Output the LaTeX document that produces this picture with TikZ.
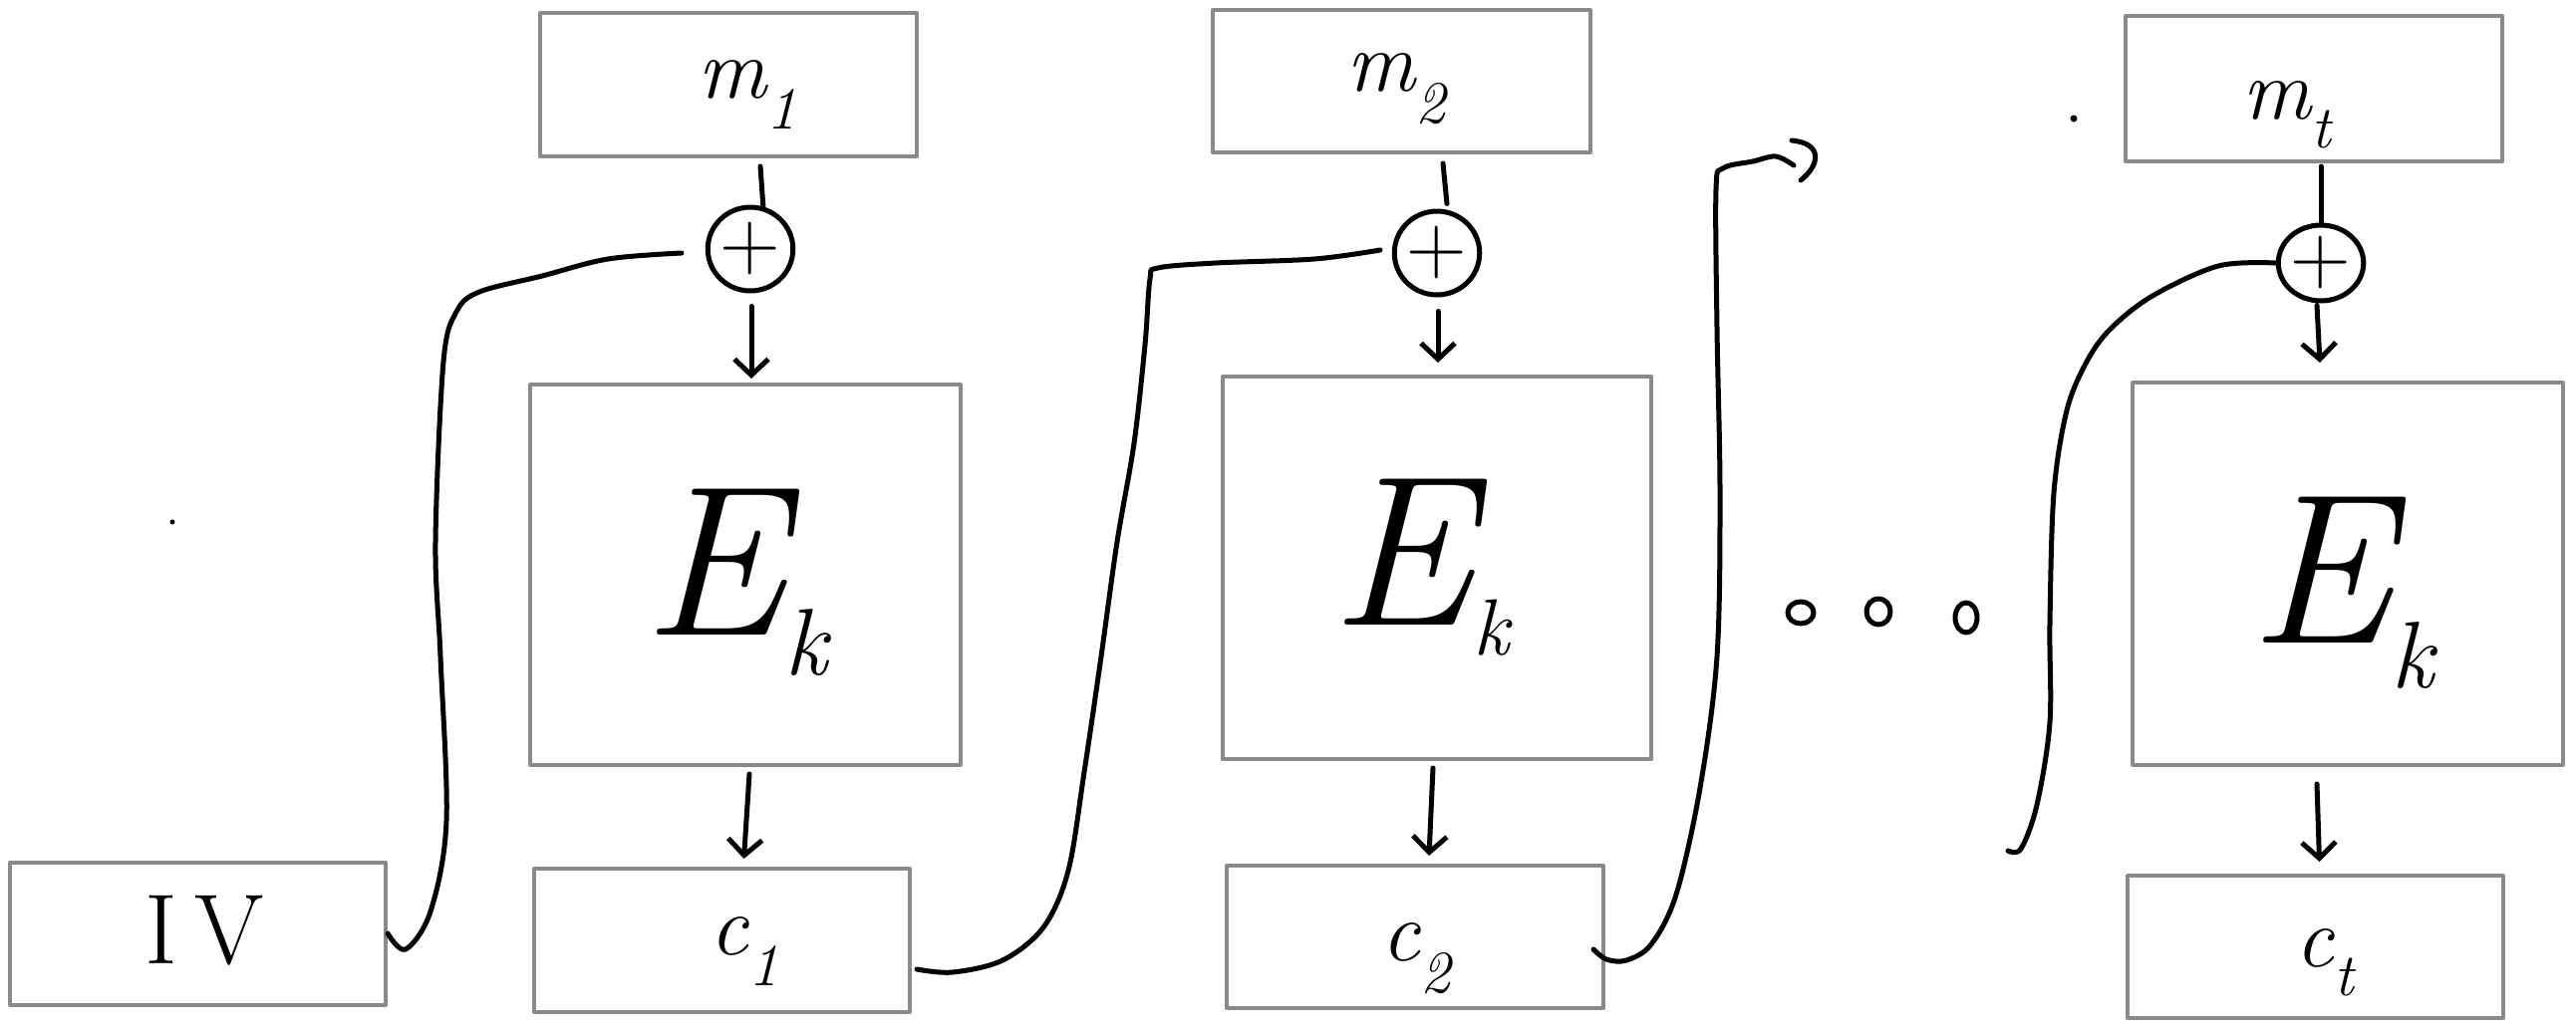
\documentclass[tikz,border=0pt]{standalone}
\usepackage{fontspec}
\usetikzlibrary{shapes.geometric,arrows.meta,calc}
\definecolor{boxgray}{RGB}{138,138,138}
\newcommand{\lowsub}[1]{\textsubscript{#1}}
\newcommand{\smallsub}[3]{\raisebox{-#2pt}{\fontsize{#1}{#1}\selectfont #3}}
\begin{document}
\begin{tikzpicture}[x=1pt,y=-1pt,line cap=round,line join=round,
  box/.style={draw=boxgray,line width=4pt,rectangle,inner sep=0pt},
  lbl/.style={inner sep=0pt,font=\fontsize{86}{100}\selectfont\itshape},
  uplbl/.style={inner sep=0pt,font=\fontsize{100}{110}\selectfont},
  biglbl/.style={inner sep=0pt,font=\fontsize{215}{250}\selectfont\itshape},
  xorc/.style={draw=black,line width=5pt,ellipse,inner sep=0pt,font=\fontsize{84}{90}\selectfont},
  ink/.style={draw=black,line width=5pt},
  arr/.style={ink,-{Straight Barb[length=16pt,width=34pt]}},
  feed/.style={ink,smooth,tension=0.55}]
\fill[white] (0,0) rectangle (2585,1034);
\useasboundingbox (0,0) rectangle (2585,1034);

% boxes
\node[box,minimum width=378pt,minimum height=144pt] (m1) at (731,85) {};
\node[box,minimum width=379pt,minimum height=143pt] (m2) at (1406.5,81.5) {};
\node[box,minimum width=378pt,minimum height=146pt] (mt) at (2322,89) {};
\node[box,minimum width=432pt,minimum height=382pt] (e1) at (748,577) {};
\node[box,minimum width=430pt,minimum height=384pt] (e2) at (1442,570) {};
\node[box,minimum width=432pt,minimum height=384pt] (e3) at (2356,576) {};
\node[box,minimum width=377pt,minimum height=143pt] (iv) at (198.5,937) {};
\node[box,minimum width=377pt,minimum height=144pt] (c1) at (724.5,944) {};
\node[box,minimum width=378pt,minimum height=143pt] (c2) at (1420,940.5) {};
\node[box,minimum width=377pt,minimum height=143pt] (ct) at (2323.5,950.5) {};

% labels
\node[lbl] (tm1) at (750,95) {m\lowsub{1}};
\node[lbl] (tm2) at (1401,89) {m\lowsub{2}};
\node[lbl] (tmt) at (2295,115) {m\lowsub{t}};
\node[biglbl] (te1) at (738,585) {E\smallsub{95}{40}{k}};
\node[biglbl] (te2) at (1425,570) {E\smallsub{80}{30}{k}};
\node[biglbl] (te3) at (2350,595) {E\smallsub{95}{45}{k}};
\node[uplbl] (tiv) at (205,934) {I\,V};
\node[lbl] (tc1) at (747,955) {c\lowsub{1}};
\node[lbl] (tc2) at (1421,962) {c\lowsub{2}};
\node[lbl] (tct) at (2333,966) {c\lowsub{t}};

% xor circles
\node[xorc,minimum width=70pt,minimum height=84pt] (x1) at (753,250) {+};
\node[xorc,minimum width=68pt,minimum height=84pt] (x2) at (1442,254) {+};
\node[xorc,minimum width=62pt,minimum height=76pt] (x3) at (2329,264) {+};

% message to xor
\draw[ink] ($(m1.south)+(32,8)$) -- ($(x1.north)+(13,4)$);
\draw[ink] ($(m2.south)+(41.5,9)$) -- ($(x2.north)+(10,-5)$);
\draw[ink] ($(mt.south)+(7,3)$) -- (x3.north);

% xor to E
\draw[arr] ($(x1.south)+(1,13)$) -- ($(e1.north)+(6,-4)$);
\draw[arr] ($(x2.south)+(1,14)$) -- ($(e2.north)+(1,-12)$);
\draw[arr] ($(x3.south)+(-4,2)$) -- ($(e3.north)+(-28,-18)$);

% E to c
\draw[arr] ($(e1.south)+(4,7)$) -- ($(c1.north)+(22,-8)$);
\draw[arr] ($(e2.south)+(-4,7)$) -- ($(c2.north)+(14,-8)$);
\draw[arr] ($(e3.south)+(-31,17)$) -- ($(ct.north)+(4,-12)$);

% feedback curves
\coordinate (f1end) at (684,254);
\draw[feed] plot coordinates {(iv.east) (407,953) (432,915) (448,824) (442,659) (437,544) (445,363) (458,313) (481,293) (544,277) (610,260) (f1end)};
\coordinate (c1out) at (920,973);
\coordinate (f2end) at (1385,251);
\draw[feed] plot coordinates {(c1out) (956,976) (1006,964) (1047,931) (1072,874) (1088,775) (1105,659) (1121,544) (1138,445) (1149,346) (1154,280) (1162,269) (1220,264) (1319,260) (f2end)};
\coordinate (c2out) at (1599,953);
\coordinate (f3end) at (1800,166);
\draw[feed] plot coordinates {(c2out) (1612,963) (1632,964) (1657,948) (1682,898) (1706,791) (1723,659) (1726,495) (1723,330) (1722,190) (1729,169) (1759,162) (1782,157) (f3end)};
\draw[ink] (1798,141) .. controls (1830,144) and (1826,166) .. (1807,181);
\coordinate (f4start) at (2015,854);
\draw[feed] plot coordinates {(f4start) (2028,852) (2044,808) (2057,725) (2057,626) (2061,495) (2074,412) (2094,363) (2118,330) (2160,297) (2226,267) (x3.west)};

% dots
\draw[ink] (1807,615) ellipse (13 and 11);
\draw[ink] (1885,614) ellipse (12 and 13);
\draw[ink] (1973,620) ellipse (11 and 15);
\fill (2081,119) circle (3.5);
\fill (173,524) circle (2.5);
\end{tikzpicture}
\end{document}
